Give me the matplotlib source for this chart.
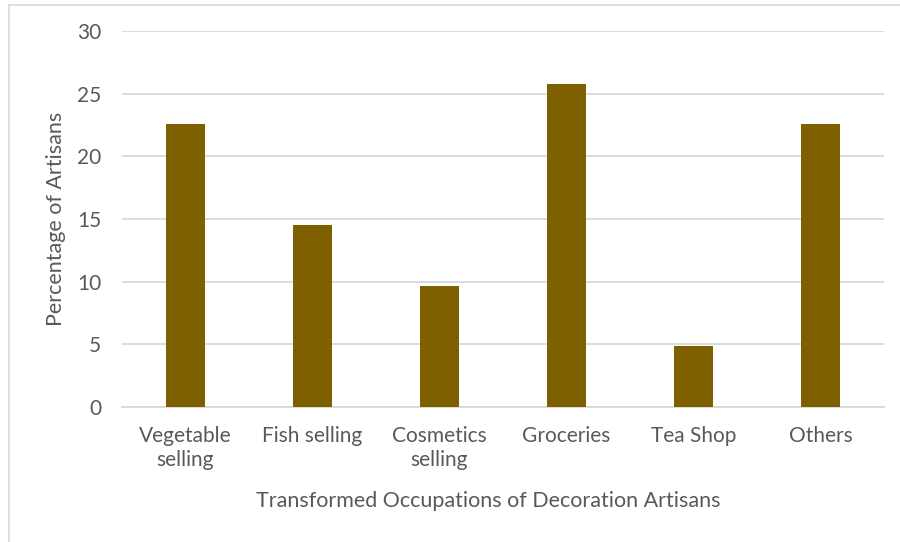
import matplotlib
matplotlib.use("Agg")
import matplotlib.pyplot as plt
from matplotlib.lines import Line2D

# ── Data ──────────────────────────────────────────────
categories = ["Vegetable\nselling", "Fish selling", "Cosmetics\nselling",
              "Groceries", "Tea Shop", "Others"]
percentages = [22.58, 14.52, 9.68, 25.81, 4.84, 22.58]
y_ticks = [0, 5, 10, 15, 20, 25, 30]

BAR_COLOR = "#7F6000"
TEXT_COLOR = "#595959"
GRID_COLOR = "#D9D9D9"

plt.rcParams["font.family"] = ["Lato", "DejaVu Sans"]

W, H = 900, 542
fig = plt.figure(figsize=(W / 100, H / 100), dpi=100)
ax = fig.add_axes([122 / W, 1 - 407 / H, (884 - 122) / W, (407 - 31) / H])

x = range(len(categories))
ax.bar(x, percentages, width=0.31, color=BAR_COLOR, zorder=3)

ax.set_xlim(-0.5, len(categories) - 0.5)
ax.set_ylim(0, 30)
ax.set_yticks(y_ticks)
ax.set_xticks(list(x))
ax.set_xticklabels(categories, fontsize=15, color=TEXT_COLOR, linespacing=1.25)
ax.tick_params(axis="y", labelsize=15, labelcolor=TEXT_COLOR, length=0, pad=15)
ax.tick_params(axis="x", length=0, pad=14)

ax.yaxis.grid(True, color=GRID_COLOR, linewidth=1.3, zorder=0)
for side in ["top", "right", "left"]:
    ax.spines[side].set_visible(False)
ax.spines["bottom"].set_color(GRID_COLOR)
ax.spines["bottom"].set_linewidth(1.3)

ax.set_xlabel("Transformed Occupations of Decoration Artisans",
              fontsize=15.5, color=TEXT_COLOR, labelpad=15)
ax.xaxis.label.set_x(0.48)
ax.set_ylabel("Percentage of Artisans", fontsize=15.5, color=TEXT_COLOR, labelpad=8)

# chart-area border (left and top edges visible)
fig.add_artist(Line2D([8.5 / W, 8.5 / W], [0, 1 - 4.5 / H], transform=fig.transFigure,
                      color=GRID_COLOR, linewidth=1.2))
fig.add_artist(Line2D([8.5 / W, 1], [1 - 4.5 / H, 1 - 4.5 / H], transform=fig.transFigure,
                      color=GRID_COLOR, linewidth=1.2))

fig.savefig("out.png", dpi=100)
